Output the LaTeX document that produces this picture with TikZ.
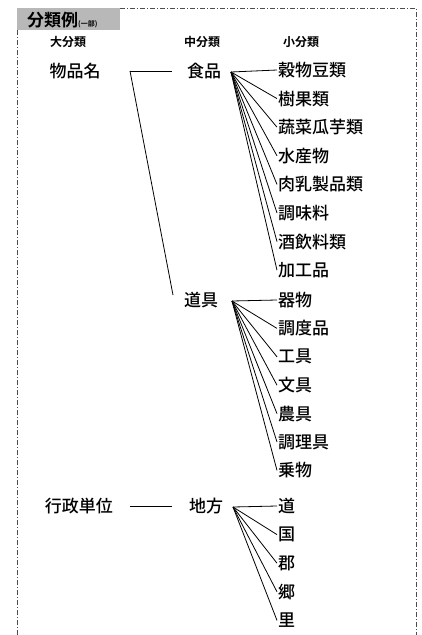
\documentclass[tikz,border=0pt]{standalone}
\usepackage{fontspec}
\newfontfamily\jp{Noto Sans CJK JP Medium}
\newfontfamily\jphead{Noto Sans CJK JP Bold}
\usetikzlibrary{positioning}

\begin{document}
\begin{tikzpicture}[
        x=1pt, y=-1pt,
        item/.style={
            anchor=west,
            inner sep=1pt,
            font=\jp\fontsize{17}{17}\selectfont
        },
        term/.style={
            inner sep=1pt,
            font=\jp\fontsize{17}{17}\selectfont
        },
        head/.style={
            inner sep=0pt,
            font=\jphead\fontsize{12}{12}\selectfont
        },
        link/.style={
            line width=0.8pt,
            color=black
        },
        frame/.style={
            line width=0.7pt,
            color=black!70,
            dash pattern=on 5pt off 2pt on 1pt off 2pt
        }
    ]
    \useasboundingbox (0,0) rectangle (421,635);

    % Dash-dot frame and title
    \draw[frame] (17,635) -- (17,8) -- (416,8) -- (416,635);
    \fill[black!28] (17.4,8.4) rectangle (120,30);
    \node[anchor=west, inner sep=0pt, font=\jphead\fontsize{17}{17}\selectfont] (title) at (27,20)
        {分類例{\fontsize{7}{7}\selectfont (一部)}};

    % Column heads
    \node[head] (big) at (68,42) {大分類};
    \node[head] (mid) at (202,42) {中分類};
    \node[head] (small) at (301,42) {小分類};

    % Main classes
    \node[term] (goods) at (75,71) {物品名};
    \node[term] (admin) at (79,506) {行政単位};

    % Middle classes
    \node[term] (food) at (204,71) {食品};
    \node[term] (tool) at (201,300) {道具};
    \node[term] (region) at (206,506) {地方};

    % Links between main and middle classes
    \coordinate (goodsfork) at (130,71);
    \coordinate (foodend) at (172,71);
    \coordinate (toolend) at (173,295);
    \coordinate (adminstart) at (130,506);
    \coordinate (adminend) at (172,506);
    \draw[link] (goodsfork) -- (foodend);
    \draw[link] (goodsfork) -- (toolend);
    \draw[link] (adminstart) -- (adminend);

    % Fans to small classes
    \coordinate (foodfan) at (231,72);
    \coordinate (toolfan) at (232,301);
    \coordinate (regionfan) at (233,507);

    \foreach \t [count=\i] in {穀物豆類,樹果類,蔬菜瓜芋類,水産物,肉乳製品類,調味料,酒飲料類,加工品} {
        \node[item] (food\i) at (277,{70+28.6*(\i-1)}) {\t};
        \draw[link] (foodfan) -- (food\i.west);
    }
    \foreach \t [count=\i] in {器物,調度品,工具,文具,農具,調理具,乗物} {
        \node[item] (tool\i) at (277,{300+28.4*(\i-1)}) {\t};
        \draw[link] (toolfan) -- (tool\i.west);
    }
    \foreach \t [count=\i] in {道,国,郡,郷,里} {
        \node[item] (region\i) at (277,{506+28.6*(\i-1)}) {\t};
        \draw[link] (regionfan) -- (region\i.west);
    }

\end{tikzpicture}
\end{document}
